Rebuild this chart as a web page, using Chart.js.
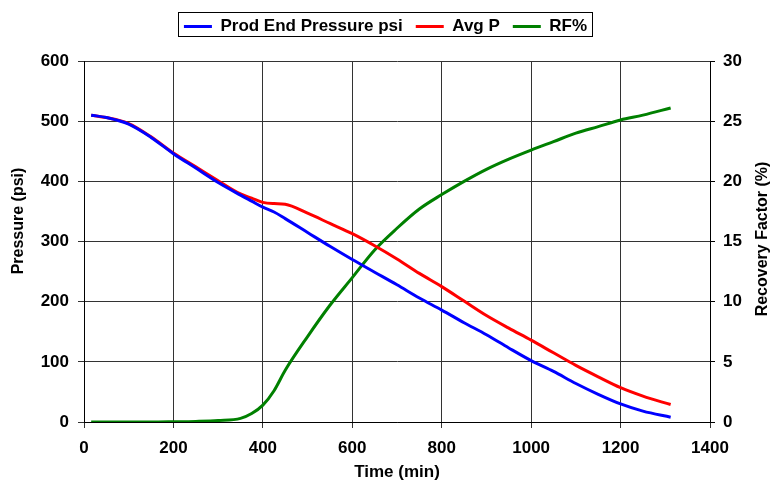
<!DOCTYPE html>
<html>
<head>
<meta charset="utf-8">
<script src="https://cdn.jsdelivr.net/npm/chart.js@4"></script>
<style>
  html, body { margin: 0; padding: 0; background: #fff; }
  #wrap { width: 771px; height: 483px; }
</style>
</head>
<body>
<div id="wrap"><canvas id="grafico"></canvas></div>
<script>
const tiempo = [16, 50, 100, 150, 200, 250, 300, 350, 375, 400, 425, 450, 500, 550, 600, 650, 700, 750, 800, 850, 900, 950, 1000, 1050, 1100, 1150, 1200, 1250, 1312];
const presionProd = [510, 506, 495, 473, 446, 422, 398, 377, 367, 357, 349, 338, 315, 292, 270, 249, 228, 206, 186, 165, 145, 123, 102, 84, 64, 46, 30, 18, 8];
const presionMedia = [510, 506, 496, 474, 447, 424, 401, 379, 372, 365, 363, 362, 347, 330, 313, 293, 271, 247, 225, 201, 177, 156, 136, 115, 94, 75, 57, 43, 29];
const factorRec = [0, 0, 0, 0, 0.02, 0.05, 0.12, 0.3, 0.7, 1.4, 2.6, 4.3, 7.1, 9.7, 12.0, 14.3, 16.1, 17.7, 18.9, 20.0, 21.0, 21.85, 22.6, 23.3, 24.0, 24.55, 25.1, 25.5, 26.1];

const etiquetas = ["Prod End Pressure psi", "Avg P", "RF%"];
const colores = ["#0000ff", "#ff0000", "#008000"];
const tituloX = "Time (min)";
const tituloY = "Pressure (psi)";
const tituloY2 = "Recovery Factor (%)";

const fuente = "Arial, 'Liberation Sans', sans-serif";
const puntos = (ys) => tiempo.map((t, i) => ({ x: t, y: ys[i] }));
const sinMiles = (v) => String(v);

// Ajusta el alto de la leyenda y dibuja su recuadro
const marcoLeyenda = {
  id: "marcoLeyenda",
  afterInit(chart) {
    const fit0 = chart.legend.fit;
    chart.legend.fit = function () { fit0.call(this); this.height = 56; };
  },
  afterDraw(chart) {
    const cajas = chart.legend.legendHitBoxes;
    if (!cajas || !cajas.length) return;
    const x0 = Math.min(...cajas.map(c => c.left)) - 6;
    const x1 = Math.max(...cajas.map(c => c.left + c.width)) + 5;
    const ctx = chart.ctx;
    ctx.save();
    ctx.strokeStyle = "#000";
    ctx.lineWidth = 1;
    ctx.strokeRect(Math.round(x0) + 0.5, 12.5, Math.round(x1 - x0), 24);
    ctx.restore();
  }
};

// Títulos verticales, ambos leídos de abajo hacia arriba
const titulosVerticales = {
  id: "titulosVerticales",
  afterDraw(chart) {
    const ctx = chart.ctx;
    const poner = (texto, x, y, size) => {
      ctx.save();
      ctx.translate(x, y);
      ctx.rotate(-Math.PI / 2);
      ctx.font = "bold " + size + "px " + fuente;
      ctx.fillStyle = "#000";
      ctx.textAlign = "center";
      ctx.textBaseline = "middle";
      ctx.fillText(texto, 0, 0);
      ctx.restore();
    };
    poner(tituloY, 19, 221, 16);
    poner(tituloY2, 763, 239, 16);
  }
};

new Chart(document.getElementById("grafico"), {
  type: "line",
  data: {
    datasets: [
      { label: etiquetas[0], data: puntos(presionProd), borderColor: colores[0], backgroundColor: colores[0], yAxisID: "y" },
      { label: etiquetas[1], data: puntos(presionMedia), borderColor: colores[1], backgroundColor: colores[1], yAxisID: "y" },
      { label: etiquetas[2], data: puntos(factorRec), borderColor: colores[2], backgroundColor: colores[2], yAxisID: "y2" }
    ]
  },
  options: {
    responsive: true,
    maintainAspectRatio: false,
    animation: false,
    layout: { padding: { top: 5, left: 0, right: 0, bottom: 0 } },
    elements: {
      point: { radius: 0, borderWidth: 3 },
      line: { borderWidth: 3, cubicInterpolationMode: "monotone", fill: false }
    },
    plugins: {
      legend: {
        position: "top",
        labels: {
          usePointStyle: true,
          pointStyle: "line",
          pointStyleWidth: 28,
          padding: 13,
          color: "#000",
          font: { family: fuente, size: 17, weight: "bold" }
        }
      },
      tooltip: { enabled: false }
    },
    scales: {
      x: {
        type: "linear",
        min: 0, max: 1400,
        ticks: { stepSize: 200, callback: sinMiles, color: "#000", padding: 10, font: { family: fuente, size: 17, weight: "bold" } },
        grid: { color: "#333", tickLength: 6 },
        border: { color: "#000" },
        title: { display: true, text: tituloX, color: "#000", padding: { top: 0, bottom: 0 }, font: { family: fuente, size: 17, weight: "bold" } },
        afterFit(s) { s.height = 61; }
      },
      y: {
        position: "left",
        min: 0, max: 600,
        ticks: { stepSize: 100, callback: sinMiles, color: "#000", padding: 9, font: { family: fuente, size: 17, weight: "bold" } },
        grid: { color: "#333", tickLength: 6 },
        border: { color: "#000" },
        afterFit(s) { s.width = 84; }
      },
      y2: {
        position: "right",
        min: 0, max: 30,
        ticks: { stepSize: 5, callback: sinMiles, color: "#000", padding: 8, font: { family: fuente, size: 17, weight: "bold" } },
        grid: { drawOnChartArea: false, color: "#000", tickLength: 5 },
        border: { color: "#000" },
        afterFit(s) { s.width = 61; }
      }
    }
  },
  plugins: [marcoLeyenda, titulosVerticales]
});
</script>
</body>
</html>
